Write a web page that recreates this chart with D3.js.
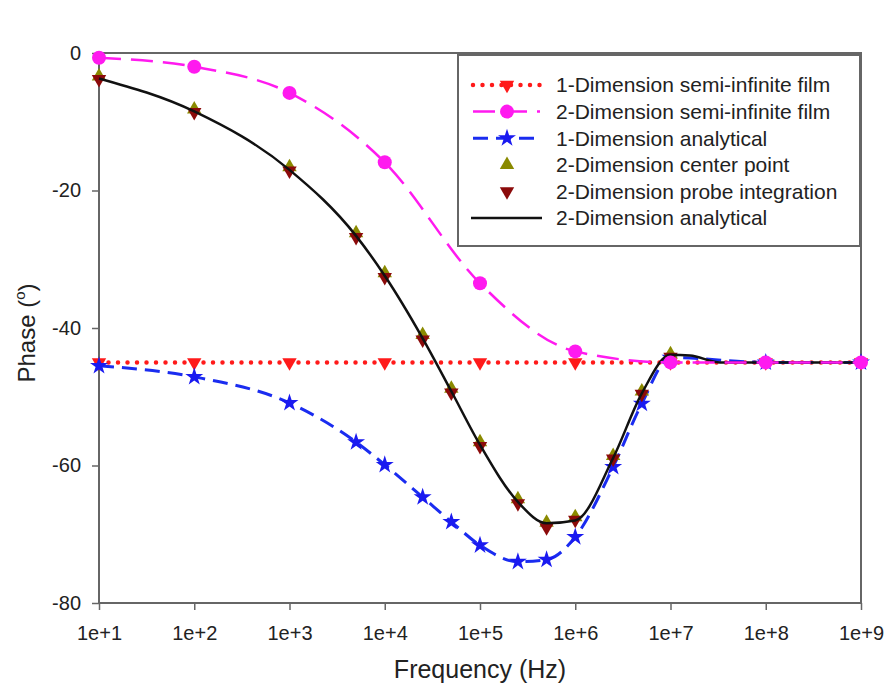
<!DOCTYPE html>
<html>
<head>
<meta charset="utf-8">
<script src="https://cdn.jsdelivr.net/npm/d3@7"></script>
<style>
  body { margin: 0; background: #fff; }
  text { font-family: "Liberation Sans", Arial, sans-serif; fill: #222; }
</style>
</head>
<body>
<div id="chart"></div>
<script>
// data
//---------------------------------------------------------------------------
var freqs = [1e1, 1e2, 1e3, 5e3, 1e4, 2.5e4, 5e4, 1e5, 2.5e5, 5e5, 1e6, 2.5e6, 5e6, 1e7, 1e8, 1e9];

// 1-Dimension semi-infinite film (markers only at decades)
var semi1Freq = [1e1, 1e2, 1e3, 1e4, 1e5, 1e6, 1e7, 1e8, 1e9];
var semi1Phase = [-45, -45, -45, -45, -45, -45, -45, -45, -45];

// 2-Dimension semi-infinite film
var semi2Freq = [1e1, 1e2, 1e3, 1e4, 1e5, 1e6, 1e7, 1e8, 1e9];
var semi2Phase = [-0.7, -2.0, -5.8, -15.9, -33.5, -43.4, -45, -45, -45];

// 1-Dimension analytical
var ana1Phase = [-45.5, -47.1, -50.9, -56.6, -59.9, -64.6, -68.2, -71.6, -74.0, -73.7, -70.4, -60.2, -51.0, -44.3, -45, -45];

// 2-Dimension center point / probe integration
var centerPhase = [-3.4, -8.2, -16.6, -26.2, -32.0, -41.0, -48.8, -56.6, -64.9, -68.3, -67.5, -58.6, -49.2, -43.8];
var probePhase = [-3.8, -8.6, -17.1, -26.8, -32.6, -41.7, -49.4, -57.2, -65.5, -69.0, -67.9, -59.0, -49.6, -44.2];

// 2-Dimension analytical (line only)
var ana2Freq = [1e1, 1e2, 1e3, 5e3, 1e4, 2.5e4, 5e4, 1e5, 2.5e5, 5e5, 1e6, 2.5e6, 5e6, 1e7, 1.6e7, 3.3e7, 1e8, 1e9];
var ana2Phase = [-3.7, -8.5, -17.0, -26.6, -32.4, -41.5, -49.2, -57.0, -65.3, -68.4, -68.0, -58.9, -49.5, -43.9, -44.0, -45, -45, -45];

var xTicks = [1e1, 1e2, 1e3, 1e4, 1e5, 1e6, 1e7, 1e8, 1e9];
var yTicks = [-80, -60, -40, -20, 0];

var legendLabels = [
    "1-Dimension semi-infinite film",
    "2-Dimension semi-infinite film",
    "1-Dimension analytical",
    "2-Dimension center point",
    "2-Dimension probe integration",
    "2-Dimension analytical"
];

// helpers
//---------------------------------------------------------------------------
function zip(xs, ys) {
    return ys.map(function(v, i) { return { f: xs[i], p: v }; });
}

var W = 887, H = 685;
var svg = d3.select("#chart").append("svg")
    .attr("width", W)
    .attr("height", H);

var x = d3.scaleLog().domain([1e1, 1e9]).range([99, 861]);
var y = d3.scaleLinear().domain([-80, 0]).range([603, 53]);

var line = d3.line()
    .x(function(d) { return x(d.f); })
    .y(function(d) { return y(d.p); })
    .curve(d3.curveMonotoneX);

var triSize = 90, starSize = 100;
var triUp = d3.symbol().type(d3.symbolTriangle).size(triSize)();
var star = d3.symbol().type(d3.symbolStar).size(starSize)();

// axes
//---------------------------------------------------------------------------
var gx = svg.append("g")
    .attr("transform", "translate(0,603)")
    .call(d3.axisBottom(x)
        .tickValues(xTicks)
        .tickSize(7)
        .tickPadding(16)
        .tickFormat(function(d) { return "1e+" + Math.round(Math.log10(d)); }));

var gy = svg.append("g")
    .attr("transform", "translate(99,0)")
    .call(d3.axisLeft(y)
        .tickValues(yTicks)
        .tickSize(7)
        .tickPadding(11)
        .tickFormat(function(d) { return d < 0 ? "-" + Math.abs(d) : "" + d; }));

[gx, gy].forEach(function(g) {
    g.select(".domain").remove();
    g.selectAll(".tick line").attr("stroke", "#666").attr("stroke-width", 1.5);
    g.selectAll(".tick text")
        .style("font-size", "20px")
        .style("font-family", "Liberation Sans, Arial, sans-serif")
        .attr("fill", "#222");
});

// plot frame
svg.append("rect")
    .attr("x", 99).attr("y", 53)
    .attr("width", 762).attr("height", 550)
    .attr("fill", "none")
    .attr("stroke", "#666")
    .attr("stroke-width", 2);

// axis titles
svg.append("text")
    .attr("x", 480).attr("y", 678)
    .attr("text-anchor", "middle")
    .style("font-size", "25px")
    .text("Frequency (Hz)");

var yl = svg.append("text")
    .attr("transform", "translate(35,333) rotate(-90)")
    .attr("text-anchor", "middle")
    .style("font-size", "24px");
yl.append("tspan").text("Phase (");
yl.append("tspan").attr("dy", -10).style("font-size", "15px").text("o");
yl.append("tspan").attr("dy", 10).text(")");

// series
//---------------------------------------------------------------------------
var plot = svg.append("g");

// 1-D semi-infinite film: red dotted + down triangles
plot.append("path")
    .datum(zip(semi1Freq, semi1Phase))
    .attr("d", line)
    .attr("fill", "none")
    .attr("stroke", "#ff1a1a")
    .attr("stroke-width", 4.5)
    .attr("stroke-linecap", "round")
    .attr("stroke-dasharray", "0,9.5");
plot.selectAll(".semi1").data(zip(semi1Freq, semi1Phase)).enter()
    .append("path")
    .attr("d", triUp)
    .attr("transform", function(d) { return "translate(" + x(d.f) + "," + y(d.p) + ") rotate(180)"; })
    .attr("fill", "#ff1a1a");

// 1-D analytical: blue dashed + stars
plot.append("path")
    .datum(zip(freqs, ana1Phase))
    .attr("d", line)
    .attr("fill", "none")
    .attr("stroke", "#1a2cf0")
    .attr("stroke-width", 3)
    .attr("stroke-dasharray", "15,8");
plot.selectAll(".ana1").data(zip(freqs, ana1Phase)).enter()
    .append("path")
    .attr("d", star)
    .attr("transform", function(d) { return "translate(" + x(d.f) + "," + y(d.p) + ")"; })
    .attr("fill", "#1a1af0");

// 2-D center point: olive up triangles
plot.selectAll(".center").data(zip(freqs, centerPhase)).enter()
    .append("path")
    .attr("d", triUp)
    .attr("transform", function(d) { return "translate(" + x(d.f) + "," + y(d.p) + ")"; })
    .attr("fill", "#8a8a00");

// 2-D probe integration: dark red down triangles
plot.selectAll(".probe").data(zip(freqs, probePhase)).enter()
    .append("path")
    .attr("d", triUp)
    .attr("transform", function(d) { return "translate(" + x(d.f) + "," + y(d.p) + ") rotate(180)"; })
    .attr("fill", "#8b0a0a");

// 2-D analytical: black solid
plot.append("path")
    .datum(zip(ana2Freq, ana2Phase))
    .attr("d", line)
    .attr("fill", "none")
    .attr("stroke", "#111")
    .attr("stroke-width", 2.5);

// 2-D semi-infinite film: magenta long dash + circles
plot.append("path")
    .datum(zip(semi2Freq, semi2Phase))
    .attr("d", line)
    .attr("fill", "none")
    .attr("stroke", "#ff1aef")
    .attr("stroke-width", 2.5)
    .attr("stroke-dasharray", "22,10");
plot.selectAll(".semi2").data(zip(semi2Freq, semi2Phase)).enter()
    .append("circle")
    .attr("cx", function(d) { return x(d.f); })
    .attr("cy", function(d) { return y(d.p); })
    .attr("r", 7)
    .attr("fill", "#ff1aef");

// legend
//---------------------------------------------------------------------------
var legend = svg.append("g");
legend.append("rect")
    .attr("x", 458).attr("y", 55)
    .attr("width", 402).attr("height", 191)
    .attr("fill", "#fff")
    .attr("stroke", "#666")
    .attr("stroke-width", 2);

var rowY = function(i) { return 85 + i * 26.6; };
var lx0 = 473, lx1 = 540, lxm = 507;

legend.selectAll(".lab").data(legendLabels).enter()
    .append("text")
    .attr("x", 556)
    .attr("y", function(d, i) { return rowY(i); })
    .attr("dy", "0.35em")
    .style("font-size", "21px")
    .text(function(d) { return d; });

// sample 0: red dotted + triangle
legend.append("line")
    .attr("x1", lx0).attr("x2", lx1).attr("y1", rowY(0)).attr("y2", rowY(0))
    .attr("stroke", "#ff1a1a").attr("stroke-width", 4.5)
    .attr("stroke-linecap", "round").attr("stroke-dasharray", "0,9.5");
legend.append("path").attr("d", triUp)
    .attr("transform", "translate(" + lxm + "," + rowY(0) + ") rotate(180)")
    .attr("fill", "#ff1a1a");

// sample 1: magenta dashed + circle
legend.append("line")
    .attr("x1", lx0).attr("x2", lx1).attr("y1", rowY(1)).attr("y2", rowY(1))
    .attr("stroke", "#ff1aef").attr("stroke-width", 2.5)
    .attr("stroke-dasharray", "22,10");
legend.append("circle").attr("cx", lxm).attr("cy", rowY(1)).attr("r", 7)
    .attr("fill", "#ff1aef");

// sample 2: blue dashed + star
legend.append("line")
    .attr("x1", lx0).attr("x2", lx1).attr("y1", rowY(2)).attr("y2", rowY(2))
    .attr("stroke", "#1a2cf0").attr("stroke-width", 3)
    .attr("stroke-dasharray", "15,8");
legend.append("path").attr("d", star)
    .attr("transform", "translate(" + lxm + "," + rowY(2) + ")")
    .attr("fill", "#1a1af0");

// sample 3, 4: triangles
legend.append("path").attr("d", triUp)
    .attr("transform", "translate(" + lxm + "," + rowY(3) + ")")
    .attr("fill", "#8a8a00");
legend.append("path").attr("d", triUp)
    .attr("transform", "translate(" + lxm + "," + rowY(4) + ") rotate(180)")
    .attr("fill", "#8b0a0a");

// sample 5: black line
legend.append("line")
    .attr("x1", lx0 - 2).attr("x2", lx1 + 2).attr("y1", rowY(5)).attr("y2", rowY(5))
    .attr("stroke", "#111").attr("stroke-width", 2.5);
</script>
</body>
</html>
